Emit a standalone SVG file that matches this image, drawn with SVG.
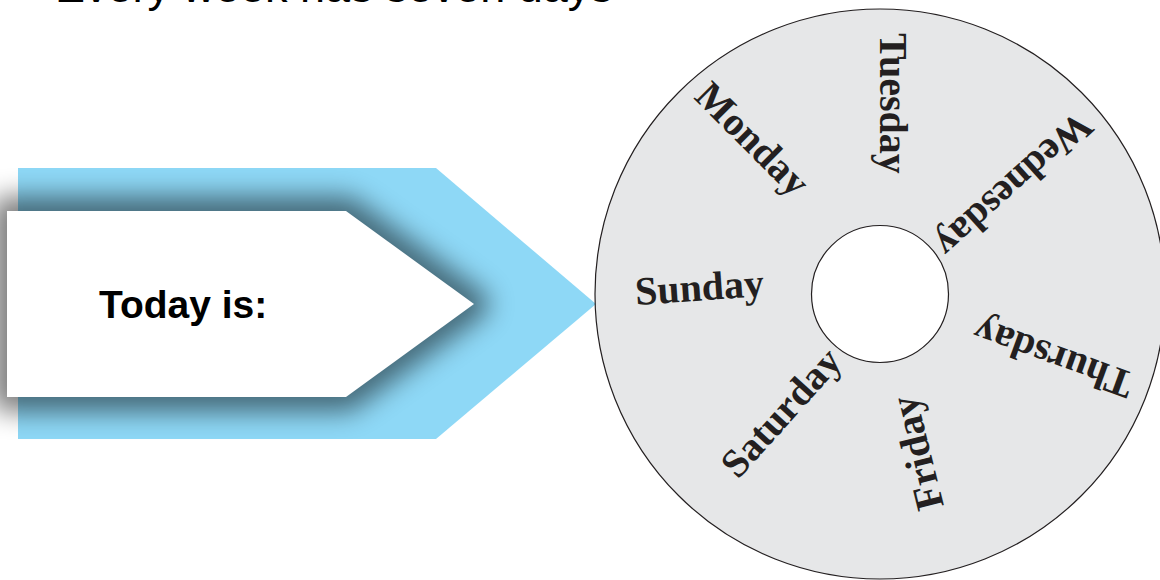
<svg xmlns="http://www.w3.org/2000/svg" width="1160" height="580" viewBox="0 0 1160 580">
<defs>
<filter id="sh" x="-20%" y="-50%" width="140%" height="200%"><feGaussianBlur stdDeviation="13"/></filter>
</defs>
<style>
.day{font-family:"Liberation Serif","Times New Roman",serif;font-weight:bold;font-size:40px;fill:#231F20}
.ring{fill:#E6E7E8;stroke:#231F20;stroke-width:1.2}
.hole{fill:#FFFFFF;stroke:#231F20;stroke-width:1.2}
</style>
<rect width="1160" height="580" fill="#FFFFFF"/>
<g id="title">
<text x="55" y="2" font-family="'Liberation Sans', Arial, sans-serif" font-size="45" fill="#000000">Every week has seven days</text>
</g>
<g id="today">
<polygon points="18,168 436,168 596,304 436,439 18,439" fill="#8ED8F6"/>
<polygon points="7,211 346,211 474,304 346,397 7,397" fill="#000000" stroke="#000000" stroke-width="30" stroke-linejoin="round" opacity="0.5" filter="url(#sh)"/>
<polygon points="7,211 346,211 474,304 346,397 7,397" fill="#FFFFFF"/>
<text x="99" y="318" font-family="'Liberation Sans', Arial, sans-serif" font-weight="bold" font-size="39" fill="#000000">Today is:</text>
</g>
<g id="connectors"></g>
<g id="disc">
<circle class="ring" cx="880" cy="294" r="285"/>
<circle class="hole" cx="880" cy="294" r="68.5"/>
</g>
<g id="sunday"><text class="day" transform="translate(636,305) rotate(-4)">Sunday</text></g>
<g id="monday"><text class="day" transform="translate(693,98) rotate(45)">Monday</text></g>
<g id="tuesday"><text class="day" transform="translate(880,33) rotate(90)">Tuesday</text></g>
<g id="wednesday"><text class="day" transform="translate(1078,110) rotate(138)">Wednesday</text></g>
<g id="thursday"><text class="day" transform="translate(1136,374) rotate(200)">Thursday</text></g>
<g id="friday"><text class="day" transform="translate(944,506) rotate(256)">Friday</text></g>
<g id="saturday"><text class="day" transform="translate(738,480) rotate(-48)">Saturday</text></g>
</svg>
